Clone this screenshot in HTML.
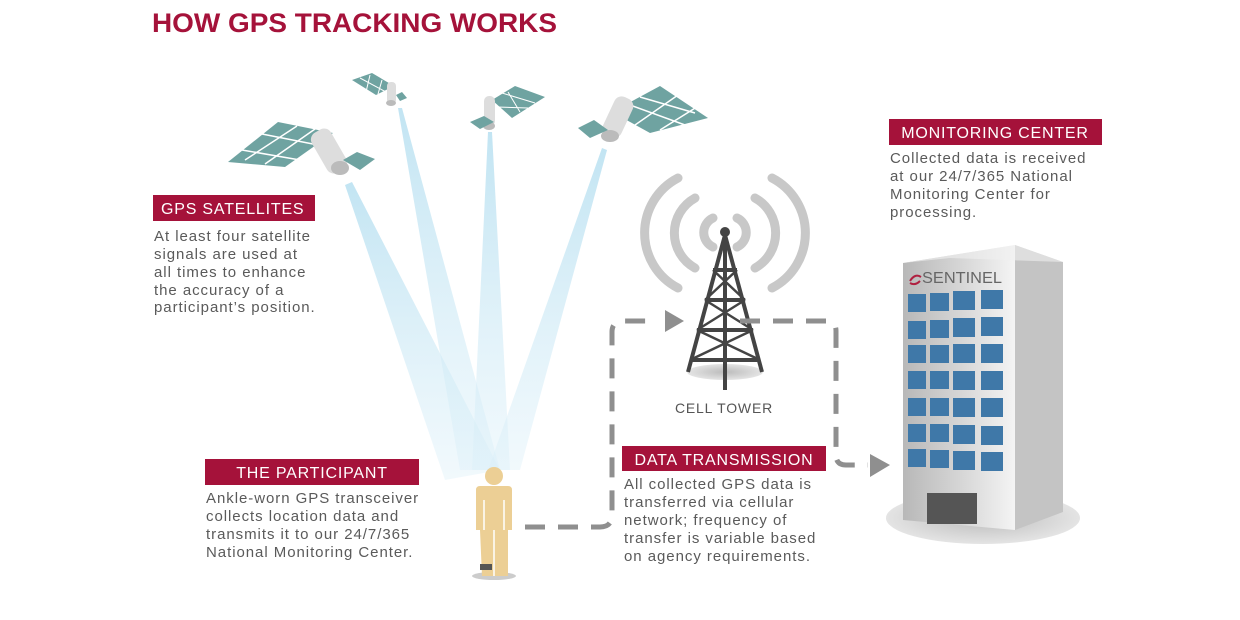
<!DOCTYPE html>
<html><head><meta charset="utf-8"><style>
html,body{margin:0;padding:0;background:#fff;}
svg{display:block;}
text{font-family:"Liberation Sans",sans-serif;}
.b{fill:#5a5a5a;font-size:15px;letter-spacing:0.95px;}
.h{fill:#fff;font-size:16px;letter-spacing:0.8px;}
</style></head><body>
<svg width="1240" height="620" viewBox="0 0 1240 620" xmlns="http://www.w3.org/2000/svg">
<defs>
<linearGradient id="bm" x1="0" y1="0" x2="0" y2="1">
<stop offset="0" stop-color="#bfe3f2" stop-opacity="0.95"/>
<stop offset="1" stop-color="#d8eef8" stop-opacity="0.35"/>
</linearGradient>
<radialGradient id="sh" cx="0.5" cy="0.5" r="0.5">
<stop offset="0" stop-color="#bbb"/><stop offset="1" stop-color="#e4e4e4"/>
</radialGradient>
<linearGradient id="bd" x1="0" y1="0" x2="1" y2="0"><stop offset="0" stop-color="#b8b8b8"/><stop offset="0.5" stop-color="#d5d5d5"/><stop offset="1" stop-color="#f4f4f4"/></linearGradient>
</defs>
<text x="152" y="32" font-size="27" font-weight="bold" fill="#a5123a" textLength="405" lengthAdjust="spacingAndGlyphs">HOW GPS TRACKING WORKS</text>

<!-- beams -->
<polygon points="345,185 352,182 500,470 445,480" fill="url(#bm)"/>
<polygon points="398,108 402,108 500,470 460,470" fill="url(#bm)"/>
<polygon points="488,132 492,132 510,470 472,470" fill="url(#bm)"/>
<polygon points="602,148 607,150 520,470 488,470" fill="url(#bm)"/>

<!-- satellites -->
<g>
<polygon points="228,162 278,122 333,133 285,167" fill="#6fa3a1"/>
<path d="M242,150 L300,160 M262,134 L318,145 M245,160 L297,126 M265,164 L315,129" stroke="#fff" stroke-width="1.5"/>
<rect x="318" y="128" width="22" height="46" rx="8" fill="#ddd" transform="rotate(-30 329 151)"/>
<ellipse cx="340" cy="168" rx="9" ry="7" fill="#bbb"/>
<polygon points="343,160 357,152 375,159 360,170" fill="#6fa3a1"/>
</g>
<g>
<polygon points="352,80 372,73 394,86 376,95" fill="#6fa3a1"/>
<path d="M360,78 L386,92 M370,75 L366,92 M382,80 L378,94" stroke="#fff" stroke-width="1"/>
<rect x="387" y="82" width="9" height="22" rx="4" fill="#ddd"/>
<ellipse cx="391" cy="103" rx="5" ry="3" fill="#bbb"/>
<polygon points="396,95 402,92 407,98 400,101" fill="#6fa3a1"/>
</g>
<g>
<polygon points="492,100 515,86 545,97 512,118" fill="#6fa3a1"/>
<path d="M502,93 L535,103 M497,107 L528,108 M508,92 L520,112" stroke="#fff" stroke-width="1"/>
<rect x="484" y="96" width="11" height="30" rx="5" fill="#ddd"/>
<ellipse cx="489" cy="126" rx="6" ry="4" fill="#bbb"/>
<polygon points="470,122 484,116 494,122 480,129" fill="#6fa3a1"/>
</g>
<g>
<polygon points="612,112 660,86 708,118 650,133" fill="#6fa3a1"/>
<path d="M630,105 L685,125 M640,97 L695,113 M635,125 L678,95 M660,130 L700,105" stroke="#fff" stroke-width="1.5"/>
<rect x="608" y="96" width="20" height="42" rx="8" fill="#ddd" transform="rotate(25 618 117)"/>
<ellipse cx="610" cy="136" rx="9" ry="6" fill="#bbb"/>
<polygon points="578,128 594,120 608,130 590,138" fill="#6fa3a1"/>
</g>

<!-- GPS satellites label -->
<rect x="153" y="195" width="162" height="26" fill="#a5123a"/>
<text class="h" x="161" y="214">GPS SATELLITES</text>
<text class="b" x="154" y="241">At least four satellite</text>
<text class="b" x="154" y="259">signals are used at</text>
<text class="b" x="154" y="277">all times to enhance</text>
<text class="b" x="154" y="295">the accuracy of a</text>
<text class="b" x="154" y="312">participant’s position.</text>

<!-- tower -->
<g fill="none" stroke="#c8c8c8" stroke-width="9" stroke-linecap="round">
<path d="M713,218 A16,16 0 0 0 713,247"/><path d="M737,218 A16,16 0 0 1 737,247"/>
<path d="M695,198 A40,40 0 0 0 695,268"/><path d="M755,198 A40,40 0 0 1 755,268"/>
<path d="M678,178 A62,62 0 0 0 678,288"/><path d="M772,178 A62,62 0 0 1 772,288"/>
</g>
<ellipse cx="725" cy="372" rx="38" ry="8" fill="url(#sh)"/>
<g stroke="#444" stroke-width="4" fill="none" stroke-linejoin="round">
<path d="M725,235 L688,372 M725,235 L762,372 M725,235 L725,390"/>
<path d="M713,270 L737,270 M705,300 L745,300 M697,330 L753,330 M690,360 L760,360"/>
<path d="M713,270 L745,300 M737,270 L705,300 M705,300 L753,330 M745,300 L697,330 M697,330 L760,360 M753,330 L690,360" stroke-width="2.5"/>
</g>
<circle cx="725" cy="232" r="5" fill="#444"/>
<text x="724" y="413" font-size="14" fill="#555" text-anchor="middle" letter-spacing="0.8">CELL TOWER</text>

<!-- dashed connectors -->
<g stroke="#8f8f8f" stroke-width="5" fill="none" stroke-dasharray="20,13">
<path d="M525,527 L600,527 Q612,527 612,515 L612,332 Q612,321 624,321 L650,321"/>
<path d="M740,321 L826,321 Q836,321 836,331 L836,455 Q836,465 846,465 L868,465"/>
</g>
<polygon points="665,310 684,321 665,332" fill="#8f8f8f"/>
<polygon points="870,454 890,465 870,477" fill="#8f8f8f"/>

<!-- participant -->
<ellipse cx="494" cy="576" rx="22" ry="4" fill="#ccc"/>
<circle cx="494" cy="476" r="9" fill="#eccf95"/>
<path d="M476,490 Q476,486 480,486 L508,486 Q512,486 512,490 L512,530 L508,530 L508,576 L482,576 L480,530 L476,530 Z" fill="#eccf95"/>
<path d="M484,500 L484,530 M504,500 L504,530 M494,530 L494,576" stroke="#fff" stroke-width="1.5"/>
<rect x="480" y="564" width="12" height="6" fill="#555"/>

<rect x="205" y="459" width="214" height="26" fill="#a5123a"/>
<text class="h" x="312" y="478" text-anchor="middle" font-size="17">THE PARTICIPANT</text>
<text class="b" x="206" y="503">Ankle-worn GPS transceiver</text>
<text class="b" x="206" y="521">collects location data and</text>
<text class="b" x="206" y="539">transmits it to our 24/7/365</text>
<text class="b" x="206" y="557">National Monitoring Center.</text>

<rect x="622" y="446" width="204" height="25" fill="#a5123a"/>
<text class="h" x="724" y="465" text-anchor="middle" font-size="17">DATA TRANSMISSION</text>
<text class="b" x="624" y="489">All collected GPS data is</text>
<text class="b" x="624" y="507">transferred via cellular</text>
<text class="b" x="624" y="525">network; frequency of</text>
<text class="b" x="624" y="543">transfer is variable based</text>
<text class="b" x="624" y="561">on agency requirements.</text>

<rect x="889" y="119" width="213" height="26" fill="#a5123a"/>
<text class="h" x="995" y="138" text-anchor="middle" font-size="17">MONITORING CENTER</text>
<text class="b" x="890" y="163">Collected data is received</text>
<text class="b" x="890" y="181">at our 24/7/365 National</text>
<text class="b" x="890" y="199">Monitoring Center for</text>
<text class="b" x="890" y="217">processing.</text>

<!-- building -->
<ellipse cx="983" cy="518" rx="97" ry="26" fill="url(#sh)"/>
<polygon points="903,263 1015,245 1015,530 903,520" fill="url(#bd)"/>
<polygon points="1015,245 1063,262 1063,512 1015,530" fill="#c4c4c4"/>
<polygon points="903,263 1015,245 1063,262 950,258" fill="#f0f0f0" opacity="0.6"/>
<text x="922" y="283" font-family="Liberation Serif,serif" font-size="16" fill="#666" textLength="80" lengthAdjust="spacingAndGlyphs">SENTINEL</text>
<path d="M910,281 q5,-8 11,-4 M910,283 q5,3 10,-2" stroke="#b02040" stroke-width="2" fill="none"/>
<g fill="#3f78a8">
<rect x="908" y="294" width="18" height="18"/><rect x="930" y="293" width="19" height="18"/><rect x="953" y="291" width="22" height="19"/><rect x="981" y="290" width="22" height="19"/>
<rect x="908" y="321" width="18" height="18"/><rect x="930" y="320" width="19" height="18"/><rect x="953" y="318" width="22" height="19"/><rect x="981" y="317" width="22" height="19"/>
<rect x="908" y="345" width="18" height="18"/><rect x="930" y="345" width="19" height="18"/><rect x="953" y="344" width="22" height="19"/><rect x="981" y="344" width="22" height="19"/>
<rect x="908" y="371" width="18" height="18"/><rect x="930" y="371" width="19" height="18"/><rect x="953" y="371" width="22" height="19"/><rect x="981" y="371" width="22" height="19"/>
<rect x="908" y="398" width="18" height="18"/><rect x="930" y="398" width="19" height="18"/><rect x="953" y="398" width="22" height="19"/><rect x="981" y="398" width="22" height="19"/>
<rect x="908" y="424" width="18" height="18"/><rect x="930" y="424" width="19" height="18"/><rect x="953" y="425" width="22" height="19"/><rect x="981" y="426" width="22" height="19"/>
<rect x="908" y="449" width="18" height="18"/><rect x="930" y="450" width="19" height="18"/><rect x="953" y="451" width="22" height="19"/><rect x="981" y="452" width="22" height="19"/>
</g>
<rect x="927" y="493" width="50" height="31" fill="#555"/>
</svg>
</body></html>
